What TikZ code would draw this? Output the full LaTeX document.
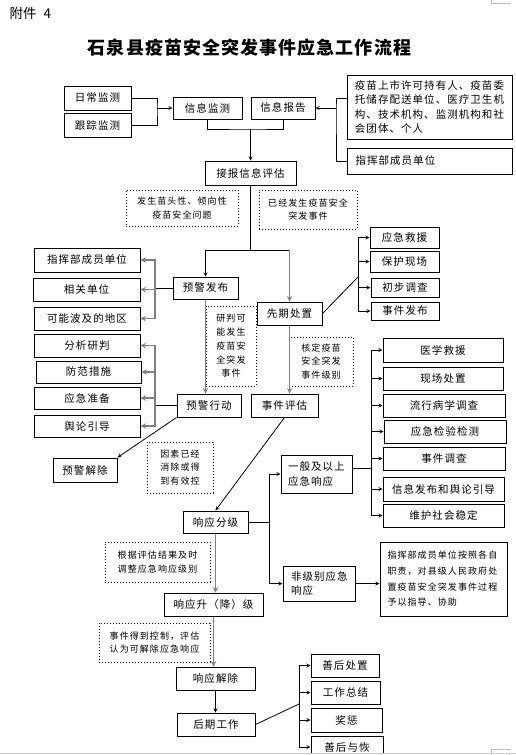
\documentclass[tikz,border=0pt]{standalone}
\usepackage{fontspec}
\newfontfamily\cjk{Noto Sans CJK SC}
\newfontfamily\cjkwide[LetterSpace=10]{Noto Sans CJK SC}
\newfontfamily\cjknote[LetterSpace=12]{Noto Sans CJK SC}
\usetikzlibrary{arrows}

\begin{document}
\begin{tikzpicture}[x=1pt, y=-1pt, >=stealth,
  cell/.style={draw, line width=1pt, inner sep=0pt, font=\cjkwide\fontsize{10.5}{14.3}\selectfont},
  note/.style={draw, dotted, line width=1pt, inner sep=0pt, align=center, font=\cjknote\fontsize{9}{13.8}\selectfont},
  link/.style={line width=0.8pt},
  gray link/.style={->, line width=1.4pt, draw=gray}]
\useasboundingbox (0,0) rectangle (516,755);

% header
\node[anchor=west, font=\cjk\fontsize{13.5}{16}\selectfont] (fj) at (6,13) {附件\hspace{7pt}4};
\node[font=\cjk\bfseries\fontsize{18}{20}\selectfont\addfontfeature{LetterSpace=6}] (title) at (249.5,48) {石泉县疫苗安全突发事件应急工作流程};

% monitoring
\node[cell, minimum width=67pt, minimum height=24pt] (rc) at (97.5,98) {日常监测};
\node[cell, minimum width=67pt, minimum height=24pt] (gz) at (97.5,125) {跟踪监测};
\node[cell, minimum width=69pt, minimum height=22pt] (xxjc) at (207.5,108) {信息监测};
\node[cell, minimum width=64pt, minimum height=22pt] (xxbg) at (283,108) {信息报告};
\node[cell, minimum width=165pt, minimum height=64pt, align=left] (ymsc) at (429.5,107) {疫苗上市许可持有人、疫苗委\\托储存配送单位、医疗卫生机\\构、技术机构、监测机构和社\\会团体、个人};
\node[cell, minimum height=26pt, text width=148pt, inner xsep=8.5pt, align=left] (zhb1) at (429.5,161) {指挥部成员单位};
\node[cell, minimum width=91pt, minimum height=24pt] (jbpg) at (250.5,173) {接报信息评估};

\node[note, minimum width=112pt, minimum height=36pt] (fs) at (182,208) {发生苗头性、倾向性\\疫苗安全问题};
\node[note, minimum width=98pt, minimum height=39pt] (yj) at (308,209.5) {已经发生疫苗安全\\突发事件};

% warning branch
\node[cell, minimum width=65pt, minimum height=22pt] (yjfb) at (205.5,288) {预警发布};
\node[cell, minimum width=106pt, minimum height=24pt] (zhb2) at (87,260) {指挥部成员单位};
\node[cell, minimum width=107pt, minimum height=23pt] (xgdw) at (86.5,289.5) {相关单位};
\node[cell, minimum width=106pt, minimum height=23pt] (knbj) at (87,318.5) {可能波及的地区};
\node[note, minimum width=50pt, minimum height=80pt] (ypd) at (231,346) {研判可\\能发生\\疫苗安\\全突发\\事件};
\node[cell, minimum width=64pt, minimum height=23pt] (yjxd) at (209,405.5) {预警行动};
\node[cell, minimum width=106pt, minimum height=23pt] (fxyp) at (87,345.5) {分析研判};
\node[cell, minimum width=105pt, minimum height=22pt] (ffcs) at (88.5,372) {防范措施};
\node[cell, minimum width=106pt, minimum height=22pt] (yjzb) at (87,398) {应急准备};
\node[cell, minimum width=106pt, minimum height=22pt] (ylyd) at (87,426) {舆论引导};
\node[cell, minimum width=64pt, minimum height=24pt] (yjjc) at (85,470) {预警解除};
\node[note, minimum width=66pt, minimum height=51pt] (ysyj) at (180,467.5) {因素已经\\消除或得\\到有效控};

% early handling branch
\node[cell, minimum width=65pt, minimum height=23pt] (xqcz) at (289.5,313.5) {先期处置};
\node[cell, minimum width=69pt, minimum height=21pt] (yjjy) at (404.5,237.5) {应急救援};
\node[cell, minimum width=69pt, minimum height=21pt] (bhxc) at (404.5,261.5) {保护现场};
\node[cell, minimum width=68pt, minimum height=19pt] (cbdc) at (405,287.5) {初步调查};
\node[cell, minimum width=68pt, minimum height=18pt] (sjfb) at (405,311) {事件发布};
\node[note, minimum width=64pt, minimum height=49pt] (hdym) at (321,361.5) {核定疫苗\\安全突发\\事件级别};
\node[cell, minimum width=67pt, minimum height=23pt] (sjpg) at (284.5,405.5) {事件评估};

% response
\node[cell, minimum width=65pt, minimum height=22pt] (xyfj) at (215.5,522) {响应分级};
\node[cell, minimum height=38pt, text width=57pt, inner xsep=7pt, align=left] (ybys) at (316.5,474) {一般及以上\\应急响应};
\node[cell, minimum height=35pt, text width=56pt, inner xsep=8pt, align=left] (fjb) at (319,583.5) {非级别应急\\响应};
\node[cell, minimum width=120pt, minimum height=24pt] (yxjy) at (443,350) {医学救援};
\node[cell, minimum width=120pt, minimum height=23pt] (xccz) at (443,378.5) {现场处置};
\node[cell, minimum width=122pt, minimum height=23pt] (lxbx) at (444,405.5) {流行病学调查};
\node[cell, minimum width=122pt, minimum height=23pt] (jyjc) at (445,431.5) {应急检验检测};
\node[cell, minimum width=122pt, minimum height=23pt] (sjdc) at (444,458.5) {事件调查};
\node[cell, minimum width=121pt, minimum height=24pt] (xxfb) at (443.5,489) {信息发布和舆论引导};
\node[cell, minimum width=121pt, minimum height=23pt] (whsh) at (443.5,515.5) {维护社会稳定};
\node[cell, minimum height=74pt, text width=112pt, inner xsep=7.5pt, align=left, font=\cjknote\fontsize{9}{15.7}\selectfont] (zdxz) at (443.5,579) {指挥部成员单位按照各自\\职责，对县级人民政府处\\置疫苗安全突发事件过程\\予以指导、协助};
\node[note, minimum width=105pt, minimum height=40pt] (gjpg) at (157.5,562) {根据评估结果及时\\调整应急响应级别};
\node[cell, minimum width=99pt, minimum height=23pt] (xysj) at (213.5,604.5) {响应升（降）级};
\node[note, minimum width=111pt, minimum height=39pt, font=\cjknote\fontsize{9}{12.5}\selectfont] (sjdk) at (154.5,642.5) {事件得到控制，评估\\认为可解除应急响应};
\node[cell, minimum width=79pt, minimum height=23pt] (xyjc) at (215.5,678.5) {响应解除};

% aftermath
\node[cell, minimum width=78pt, minimum height=23pt] (hqgz) at (216,724.5) {后期工作};
\node[cell, minimum width=68pt, minimum height=23pt] (shcz) at (345,665.5) {善后处置};
\node[cell, minimum width=69pt, minimum height=23pt] (gzzj) at (345.5,692.5) {工作总结};
\node[cell, minimum width=71pt, minimum height=24pt] (jc) at (346.5,720) {奖惩};
\begin{scope}
\clip (300,730) rectangle (400,753);
\node[cell, minimum width=72pt, minimum height=22pt] (shyh) at (347,747) {善后与恢};
\end{scope}

% connectors
\coordinate (m1) at (157,108);
\draw[link] (rc.east) -| (m1) |- (gz.east);
\draw[link,->] (m1) -- (xxjc.west);

\coordinate (m2) at (250.5,129);
\draw[link] (xxjc.south) |- (m2) -| (xxbg.south);
\draw[link,->] (m2) -- (jbpg.north);

\coordinate (m3) at (336,108);
\draw[link] ([yshift=9pt]ymsc.west) -| (m3) |- (zhb1.west);
\draw[link,->] (m3) -- (xxbg.east);

\coordinate (m4) at (250.5,250);
\draw[link] (jbpg.south) -- (m4);
\draw[link,->] (m4) -| (yjfb.north);
\draw[link] (m4) -- (m4 -| xqcz.north);
\draw[gray link] (m4 -| xqcz.north) -- (xqcz.north);

\coordinate (m6) at (155,288);
\draw[link] (yjfb.west) -- (m6);
\draw[gray link] (m6) |- (zhb2.east);
\draw[gray link] (m6) |- (xgdw.east);
\draw[gray link] (m6) |- (knbj.east);

\coordinate (m7) at (358,277);
\draw[link] (xqcz.east) -- (m7);
\draw[link,->] (m7) |- (yjjy.west);
\draw[link,->] (m7) |- (bhxc.west);
\draw[link,->] (m7) |- (cbdc.west);
\draw[link,->] (m7) |- (sjfb.west);

\draw[gray link] (yjfb.south) -- (yjfb.south |- yjxd.north);
\draw[gray link] (xqcz.south) -- (xqcz.south |- sjpg.north);

\coordinate (m8) at (155,405.5);
\draw[link] (yjxd.west) -- (m8);
\draw[gray link] (m8) |- (fxyp.east);
\draw[gray link] (m8) |- (ffcs.east);
\draw[gray link] (m8) |- (yjzb.east);
\draw[gray link] (m8) |- (ylyd.east);

\draw[link,->] (yjxd.south west) -- (yjjc.north east);
\draw[link,->] (sjpg.south) -- (xyfj.north);

\coordinate (m9) at (269,522);
\draw[link] (xyfj.east) -- (m9);
\draw[link,->] (m9) |- (ybys.west);
\draw[link,->] (m9) |- (fjb.west);

\coordinate (m10) at (371,468);
\draw[link] ([yshift=6pt]ybys.east) -- (m10);
\draw[link,->] (m10) |- (yxjy.west);
\draw[link,->] (m10) |- (xccz.west);
\draw[link,->] (m10) |- (lxbx.west);
\draw[link,->] (m10) |- (jyjc.west);
\draw[link,->] (m10) |- (sjdc.west);
\draw[link,->] (m10) |- (xxfb.west);
\draw[link,->] (m10) |- (whsh.west);

\draw[link,->] (fjb.east) -- (fjb.east -| zdxz.west);

\draw[gray link] (xyfj.south) -- (xyfj.south |- xysj.north);
\draw[gray link] (xysj.south) -- (xysj.south |- xyjc.north);
\draw[link,->] (xyjc.south) -- (xyjc.south |- hqgz.north);

\coordinate (m11) at (299,704);
\draw[link] (hqgz.east) -- (m11);
\draw[link,->] (m11) |- (shcz.west);
\draw[link,->] (m11) |- (gzzj.west);
\draw[link,->] (m11) |- (jc.west);
\draw[link,->] (m11) |- (shyh.west);

% page edge marks
\draw[gray!40, line width=0.8pt] (0,753.5) -- (516,753.5);
\draw[gray!50, line width=0.6pt] (491,0) -- (491,3) -- (511,3);
\draw[gray!50, line width=0.6pt] (491,753) -- (491,749) -- (511,749);
\draw[gray!50, line width=0.6pt] (509,753.5) -- (509,755);
\end{tikzpicture}
\end{document}
